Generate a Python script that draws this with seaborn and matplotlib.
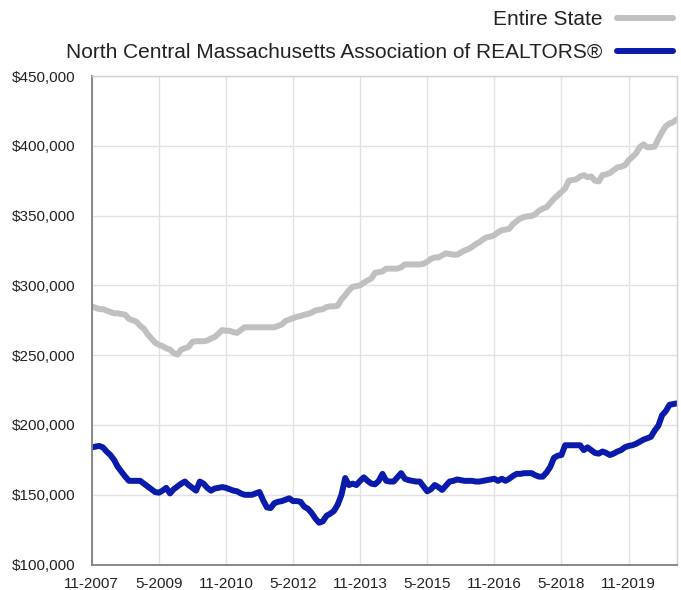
import numpy as np
import pandas as pd
import matplotlib
matplotlib.use("Agg")
import matplotlib.pyplot as plt
import seaborn as sns

# monthly values, Nov 2007 .. Dec 2020 (thousands of dollars)
state_2007 = [285, 284]
state_2008 = [283, 283, 282, 281, 280, 280, 279.5, 279, 276, 275, 274, 271]
state_2009 = [269, 265, 262, 259, 257.5, 256.5, 255, 254, 251.5, 250.5, 254, 255]
state_2010 = [256, 259.5, 260, 260, 260, 260.5, 262, 263, 265.5, 268, 267.5, 267.5]
state_2011 = [266.5, 266, 268, 270, 270, 270, 270, 270, 270, 270, 270, 270]
state_2012 = [271, 272, 274.5, 275.5, 276.5, 277.5, 278, 279, 279.5, 280.5, 282, 282.5]
state_2013 = [283, 284.5, 285, 285, 285.5, 290, 293, 296.5, 299, 299.5, 300, 302]
state_2014 = [303.5, 305, 309, 309.5, 310, 312, 312, 312, 312, 313, 315, 315]
state_2015 = [315, 315, 315, 315.5, 317, 319, 320, 320, 321.5, 323, 322.5, 322]
state_2016 = [322, 323.5, 325, 326, 327.5, 329.5, 331, 333, 334.5, 335, 336, 338]
state_2017 = [339.5, 340, 340.5, 344, 346, 348, 349, 349.5, 349.7, 351, 353.5, 355]
state_2018 = [356, 359, 362, 364.5, 367, 369.5, 375, 375.5, 376, 378, 379, 377.5]
state_2019 = [378, 375, 374.5, 379, 379.5, 380.5, 382.5, 384.5, 385, 386, 389.5, 392]
state_2020 = [394.5, 399, 401, 399, 399, 399.5, 405, 410, 414, 416, 417, 419]

ncm_2007 = [184, 184.5]
ncm_2008 = [185, 184, 181, 178.5, 175, 170, 166.5, 163, 160, 160, 160, 160]
ncm_2009 = [158, 156, 154, 152, 151.5, 153, 155, 151, 154, 156, 158, 159.5]
ncm_2010 = [157, 155, 153, 159.5, 158, 155, 153, 154.5, 155, 155.5, 155, 154]
ncm_2011 = [153, 152.5, 151, 150, 150, 150, 151, 152, 146, 141, 140.5, 144]
ncm_2012 = [145, 145.5, 146.5, 147.5, 145.5, 145.5, 145, 141.5, 140, 137, 133, 130]
ncm_2013 = [131, 135, 136.5, 138.5, 143, 150, 162, 157, 158, 157, 160, 162.5]
ncm_2014 = [160, 158, 157.5, 160, 165, 160, 159.5, 159.5, 162.5, 165.5, 161.5, 160.5]
ncm_2015 = [160, 159.5, 159.5, 156, 152.5, 154, 157, 155.5, 153.5, 156.5, 159.5, 160]
ncm_2016 = [161, 160.5, 160, 160, 160, 159.5, 159.5, 160, 160.5, 161, 161.5, 160]
ncm_2017 = [161.5, 160, 161.5, 163.5, 165, 165, 165.5, 165.5, 165.5, 164, 163, 163]
ncm_2018 = [166, 170, 176.5, 178, 178.5, 185.5, 185.5, 185.5, 185.5, 185.5, 182, 184]
ncm_2019 = [182, 180, 179.5, 181, 180, 178.5, 179.5, 181, 182, 184, 185, 185.5]
ncm_2020 = [186.5, 188, 189.5, 190.5, 191.5, 196, 199.5, 207, 210, 214.5, 215, 215.5]

tick_labels = ['11-2007', '5-2009', '11-2010', '5-2012', '11-2013',
               '5-2015', '11-2016', '5-2018', '11-2019']
series_names = ['Entire State', 'North Central Massachusetts Association of REALTORS®']

state = (state_2007 + state_2008 + state_2009 + state_2010 + state_2011 + state_2012 +
         state_2013 + state_2014 + state_2015 + state_2016 + state_2017 + state_2018 +
         state_2019 + state_2020)
ncm = (ncm_2007 + ncm_2008 + ncm_2009 + ncm_2010 + ncm_2011 + ncm_2012 + ncm_2013 +
       ncm_2014 + ncm_2015 + ncm_2016 + ncm_2017 + ncm_2018 + ncm_2019 + ncm_2020)

month = np.arange(len(state))
df = pd.DataFrame({'month': np.concatenate([month, month]),
                   'price': np.array(state + ncm) * 1000,
                   'area': [series_names[0]] * len(state) + [series_names[1]] * len(ncm)})

sns.set_theme(style='whitegrid')
plt.rcParams['font.family'] = ['Liberation Sans', 'DejaVu Sans']

fig = plt.figure(figsize=(6.81, 5.9), dpi=100)
ax = fig.add_axes([91.7 / 681, 25.4 / 590, (677 - 91.7) / 681, (564.6 - 76) / 590])

colors = {series_names[0]: '#c0c0c0', series_names[1]: '#0a1aab'}
sns.lineplot(data=df, x='month', y='price', hue='area', palette=colors, ax=ax,
             linewidth=4.3, legend=False)
for ln in ax.lines:
    ln.set_solid_capstyle('round')
    ln.set_solid_joinstyle('round')

ax.set_xlim(0, len(state) - 1)
ax.set_ylim(100000, 450000)
ax.set_xticks(np.arange(0, 18 * len(tick_labels), 18))
ax.set_xticklabels(tick_labels)
ax.set_yticks(np.arange(100000, 450001, 50000))
ax.set_yticklabels([f'${v:,}' for v in range(100000, 450001, 50000)])
ax.set_xlabel('')
ax.set_ylabel('')

ax.set_facecolor('white')
ax.grid(True, color='#e2e2e2', linewidth=1.0)
for side in ['left', 'bottom']:
    ax.spines[side].set_color('#808080')
    ax.spines[side].set_linewidth(1.3)
for side in ['top', 'right']:
    ax.spines[side].set_color('#d0d0d0')
    ax.spines[side].set_linewidth(1.0)
ax.tick_params(axis='both', which='both', length=4, width=1, color='#808080',
               labelsize=11, labelcolor='#222222')
ax.tick_params(axis='y', pad=7.5)
ax.tick_params(axis='x', pad=5)

handles = [plt.Line2D([], [], color=colors[n], linewidth=4.3, solid_capstyle='round')
           for n in series_names]
fig.legend(handles, series_names, loc='upper right', bbox_to_anchor=(673 / 681, 1 - 10 / 590),
           frameon=False, markerfirst=False, fontsize=15, handlelength=2.7,
           handletextpad=0.7, labelspacing=0.67, borderpad=0, borderaxespad=0)
for t in fig.legends[0].get_texts():
    t.set_color('#222222')

fig.savefig('out.png', dpi=100)
